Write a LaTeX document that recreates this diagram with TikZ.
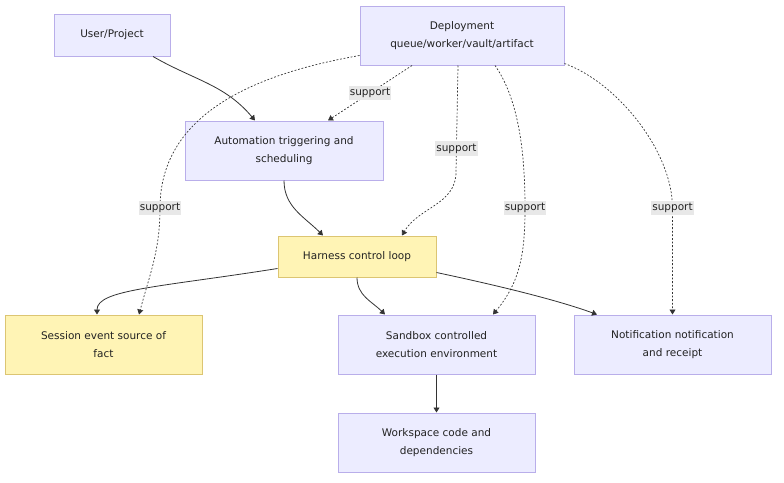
\documentclass[tikz,border=0pt]{standalone}
\usepackage{fontspec}
\setmainfont{DejaVu Sans}
\usetikzlibrary{positioning, calc, arrows.meta}

\definecolor{lavfill}{HTML}{ECECFF}
\definecolor{lavline}{HTML}{B9AEEA}
\definecolor{corefill}{HTML}{FFF4B5}
\definecolor{coreline}{HTML}{DCC572}
\definecolor{edgegray}{HTML}{333333}
\definecolor{textgray}{HTML}{222222}
\definecolor{labelgray}{HTML}{E8E8E8}

\tikzset{
  % Boxes
  flowbox/.style  = { draw=lavline, line width=1pt, fill=lavfill, align=center,
                       font=\fontsize{10.5}{18}\selectfont, text=textgray,
                       minimum width=197pt, minimum height=59pt, inner sep=0pt },
  corebox/.style  = { flowbox, draw=coreline, fill=corefill },
  % Connectors
  callflow/.style    = { line width=0.8pt, draw=edgegray,
                          -{Triangle[length=5pt,width=6pt]} },
  supportflow/.style = { callflow, line width=0.7pt, dash pattern=on 1.8pt off 1.8pt },
  supportlabel/.style= { fill=labelgray, font=\fontsize{10.5}{12}\selectfont,
                          text=textgray, inner xsep=1pt, inner ysep=2.5pt }
}

\begin{document}
\begin{tikzpicture}[x=1pt, y=1pt]

  \useasboundingbox (0,0) rectangle (784,-482);

  \node[flowbox, minimum width=116pt, minimum height=42pt] (user) at (112,-35) {User/Project};
  \node[flowbox, minimum width=204pt] (deploy) at (462,-35.5) {Deployment\\queue/worker/vault/artifact};
  \node[flowbox, minimum width=198pt] (automation) at (284,-150.5) {Automation triggering and\\scheduling};
  \node[corebox, minimum width=158pt, minimum height=41pt] (harness) at (357,-256.5) {Harness control loop};

  \node[flowbox] (sandbox) at (436.5,-344.5) {Sandbox controlled\\execution environment};
  \node[corebox, left=135pt of sandbox] (session) {Session event source of\\fact};
  \node[flowbox, right=38pt of sandbox] (notify) {Notification notification\\and receipt};
  \node[flowbox, below=38pt of sandbox] (workspace) {Workspace code and\\dependencies};

  \coordinate (harnway) at (456,-172);
  \coordinate (sessway) at (160,-208);
  \coordinate (sandway) at (525,-208);
  \coordinate (notiway) at (notify.north |- 0,-208);

  \draw[callflow] ([xshift=41pt]user.south) to[out=-30, in=130] ([xshift=-29pt]automation.north);
  \draw[supportflow] ([xshift=-50pt]deploy.south) -- node[supportlabel]{support} ([xshift=44pt]automation.north);
  \draw[supportflow] ([xshift=-4pt]deploy.south) -- node[supportlabel, pos=0.78]{support} (harnway)
    to[out=-90, in=60] ([xshift=45pt]harness.north);
  \draw[supportflow] ([yshift=10pt]deploy.south west) to[out=190, in=90] (sessway)
    node[supportlabel]{support} to[out=-90, in=75] ([xshift=35.5pt]session.north);
  \draw[supportflow] ([xshift=33pt]deploy.south) to[out=-55, in=90, looseness=0.8] (sandway)
    node[supportlabel]{support} to[out=-90, in=50] ([xshift=56.5pt]sandbox.north);
  \draw[supportflow] ([yshift=2pt]deploy.south east) to[out=-20, in=90, looseness=0.8] (notiway)
    node[supportlabel]{support} -- (notify.north);
  \draw[callflow] (automation.south) to[out=-90, in=135] ([xshift=-34pt]harness.north);
  \draw[callflow] ([yshift=9pt]harness.south west) .. controls +(189:120) and +(90:25) .. ([xshift=-6.5pt]session.north);
  \draw[callflow] (harness.south) to[out=-90, in=135] ([xshift=-51.5pt]sandbox.north);
  \draw[callflow] ([yshift=5pt]harness.south east) .. controls +(-12:90) and +(160:30) .. ([xshift=-75.5pt]notify.north);
  \draw[callflow] (sandbox) -- (workspace);

\end{tikzpicture}
\end{document}
